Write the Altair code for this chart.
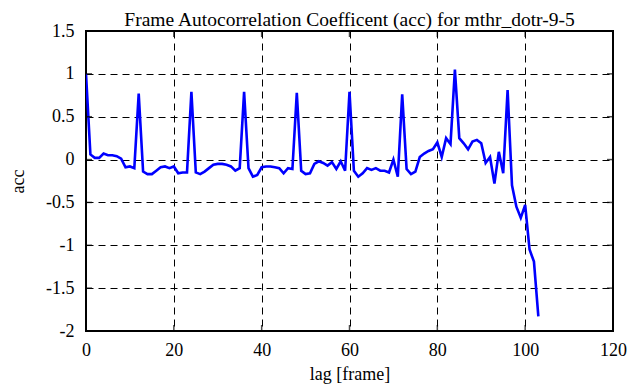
import altair as alt
import pandas as pd

lags = list(range(0, 104))
acc = [1.0, 0.06, 0.02, 0.02, 0.07, 0.05, 0.05, 0.04, 0.01, -0.09,
       -0.08, -0.1, 0.77, -0.14, -0.17, -0.17, -0.13, -0.09, -0.08, -0.1,
       -0.08, -0.16, -0.15, -0.15, 0.79, -0.15, -0.17, -0.14, -0.1, -0.06,
       -0.05, -0.05, -0.06, -0.08, -0.13, -0.1, 0.79, -0.1, -0.2, -0.18,
       -0.09, -0.08, -0.08, -0.09, -0.1, -0.16, -0.1, -0.11, 0.78, -0.13,
       -0.17, -0.16, -0.05, -0.02, -0.04, -0.07, -0.03, -0.11, -0.02, -0.13,
       0.79, -0.13, -0.2, -0.16, -0.1, -0.12, -0.1, -0.13, -0.13, -0.15,
       0.0, -0.2, 0.76, -0.11, -0.17, -0.14, 0.03, 0.07, 0.1, 0.12,
       0.2, 0.03, 0.25, 0.18, 1.05, 0.25, 0.19, 0.12, 0.21, 0.23,
       0.19, -0.04, 0.03, -0.28, 0.09, -0.16, 0.81, -0.3, -0.55, -0.68,
       -0.53, -1.05, -1.19, -1.83]

x_ticks = [0, 20, 40, 60, 80, 100, 120]
y_ticks = [-2, -1.5, -1, -0.5, 0, 0.5, 1, 1.5]

df = pd.DataFrame({"lag": lags, "acc": acc})
xt = pd.DataFrame({"t": x_ticks})
yt = pd.DataFrame({"t": y_ticks})

FONT = "Liberation Serif"
FS = 18
W, H = 527, 300
TL = 6

xscale = alt.Scale(domain=[0, 120], nice=False, zero=False)
yscale = alt.Scale(domain=[-2, 1.5], nice=False, zero=False)

common = dict(grid=True, gridDash=[7, 5], gridColor="black", gridOpacity=1, gridWidth=1,
              tickSize=0, domain=False, labelFont=FONT, titleFont=FONT,
              labelFontSize=FS, titleFontSize=FS, labelColor="black",
              titleColor="black", titleFontWeight="normal", labelFlush=False)

line = alt.Chart(df).mark_line(color="#0000FF", strokeWidth=2.6, clip=True).encode(
    x=alt.X("lag:Q", scale=xscale, title="lag [frame]",
            axis=alt.Axis(values=x_ticks, labelPadding=10, titlePadding=6, **common)),
    y=alt.Y("acc:Q", scale=yscale, title="acc",
            axis=alt.Axis(values=y_ticks, labelPadding=12, titlePadding=18,
                          labelExpr="'' + datum.value", **common)),
)

tick_bottom = alt.Chart(xt).mark_tick(color="black", size=TL, thickness=1.5).encode(
    x=alt.X("t:Q", scale=xscale), y=alt.value(H - TL / 2))
tick_top = alt.Chart(xt).mark_tick(color="black", size=TL, thickness=1.5).encode(
    x=alt.X("t:Q", scale=xscale), y=alt.value(TL / 2))
tick_left = alt.Chart(yt).mark_tick(color="black", size=TL, thickness=1.5, orient="horizontal").encode(
    y=alt.Y("t:Q", scale=yscale), x=alt.value(TL / 2))
tick_right = alt.Chart(yt).mark_tick(color="black", size=TL, thickness=1.5, orient="horizontal").encode(
    y=alt.Y("t:Q", scale=yscale), x=alt.value(W - TL / 2))

chart = alt.layer(line, tick_bottom, tick_top, tick_left, tick_right).properties(
    width=W, height=H,
    background="white",
    title=alt.TitleParams("Frame Autocorrelation Coefficent (acc) for mthr_dotr-9-5",
                          font=FONT, fontSize=19.5, fontWeight="normal", color="black",
                          offset=-8, anchor="middle"),
    autosize=alt.AutoSizeParams(type="none"),
    padding={"left": 78, "top": 23, "right": 20, "bottom": 56},
).configure_view(
    stroke="black", strokeWidth=2
)

chart.save("out.html", embed_options={"renderer": "svg", "actions": False})
